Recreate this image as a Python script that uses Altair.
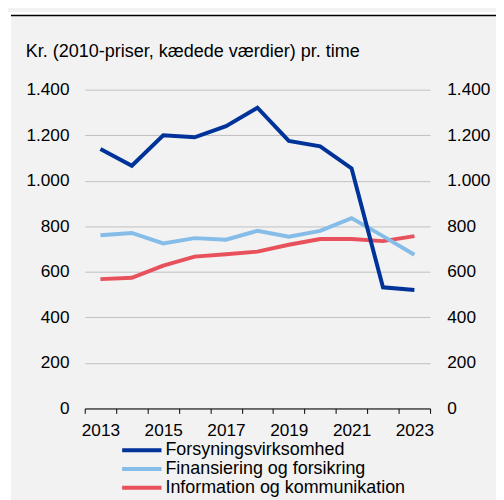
import altair as alt
import pandas as pd

years = list(range(2013, 2024))
forsyning = [1140, 1066, 1200, 1191, 1240, 1321, 1175, 1151, 1054, 532, 520]
finans = [761, 771, 725, 748, 741, 780, 754, 780, 836, 757, 675]
info = [568, 574, 627, 667, 677, 689, 719, 744, 744, 735, 757]

series_names = ["Forsyningsvirksomhed", "Finansiering og forsikring", "Information og kommunikation"]
series_colors = ["#003399", "#85BCE8", "#E8505B"]
y_ticks = [0, 200, 400, 600, 800, 1000, 1200, 1400]
title_text = "Kr. (2010-priser, kædede værdier) pr. time"

rows = []
for name, vals in [(series_names[2], info), (series_names[1], finans), (series_names[0], forsyning)]:
    for yr, v in zip(years, vals):
        rows.append({"year": yr, "value": v, "series": name})
df = pd.DataFrame(rows)

FONT = "Liberation Sans"
W, H = 351, 324

x_enc = alt.X("year:O", scale=alt.Scale(type="band", paddingInner=0, paddingOuter=0),
              axis=alt.Axis(title=None, labelAngle=0, tickBand="extent",
                            labelExpr="datum.value % 2 == 1 ? datum.label : ''",
                            domainColor="black", tickColor="black", tickSize=5,
                            labelPadding=8, labelFontSize=17.5, labelFont=FONT, labelColor="black",
                            grid=False))
y_scale = alt.Scale(domain=[0, 1400], nice=False)

one = pd.DataFrame({"t": [title_text]})
bg_white_top = alt.Chart(one).mark_rect(color="white").encode(
    x=alt.value(-78), x2=alt.value(430), y=alt.value(-79), y2=alt.value(-76))
bg_white_left = alt.Chart(one).mark_rect(color="white").encode(
    x=alt.value(-78), x2=alt.value(-75), y=alt.value(-79), y2=alt.value(420))
top_rule = alt.Chart(one).mark_rule(color="black", strokeWidth=1.5).encode(
    x=alt.value(-75), x2=alt.value(430), y=alt.value(-75.5))
title_mark = alt.Chart(one).mark_text(align="left", baseline="alphabetic", fontSize=18.3,
                                      font=FONT, color="black").encode(
    x=alt.value(-60), y=alt.value(-33.5), text="t:N")

lines = alt.Chart(df).mark_line(strokeWidth=4).encode(
    x=x_enc,
    y=alt.Y("value:Q", scale=y_scale,
            axis=alt.Axis(title=None, orient="left", values=y_ticks, domain=False, ticks=False,
                          labelPadding=16, labelFontSize=17.5, labelFont=FONT, labelColor="black",
                          labelExpr="replace(format(datum.value, ','), ',', '.')",
                          grid=True, gridColor="#c0c0c0", gridWidth=1)),
    color=alt.Color("series:N",
                    scale=alt.Scale(domain=series_names, range=series_colors),
                    legend=alt.Legend(title=None, orient="none", legendX=47.5, legendY=356,
                                      symbolType="M-2.35,0H2.35", symbolSize=289,
                                      symbolStrokeWidth=4, padding=0,
                                      labelFontSize=18.2, labelFont=FONT, labelColor="black",
                                      labelLimit=500, rowPadding=0, labelOffset=13.5)),
)

right = alt.Chart(df).mark_line(opacity=0).encode(
    x=alt.X("year:O"),
    y=alt.Y("value:Q", scale=y_scale,
            axis=alt.Axis(title=None, orient="right", values=y_ticks, domain=False, ticks=False,
                          labelPadding=17, labelFontSize=17.5, labelFont=FONT, labelColor="black",
                          labelExpr="replace(format(datum.value, ','), ',', '.')",
                          grid=False)),
    detail="series:N",
)

chart = alt.layer(bg_white_top, bg_white_left, top_rule, title_mark, lines, right).resolve_scale(
    y="shared").resolve_axis(y="independent").properties(
    width=W, height=H,
    background="#f2f2f2",
    padding={"left": 78, "top": 79, "right": 67, "bottom": 89},
    autosize=alt.AutoSizeParams(type="none"),
).configure_view(stroke=None)

chart.save("out.html", embed_options={"renderer": "svg", "actions": False})
